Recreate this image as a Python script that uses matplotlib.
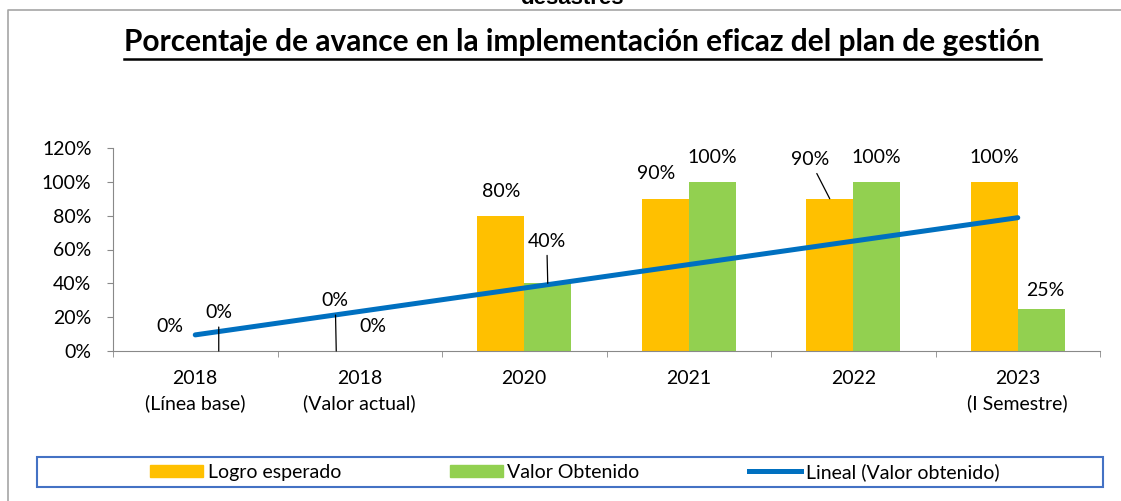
import numpy as np
import matplotlib
matplotlib.use("Agg")
import matplotlib.pyplot as plt
from matplotlib.patches import Rectangle, Patch
from matplotlib.lines import Line2D
from matplotlib.ticker import FixedLocator, FuncFormatter

plt.rcParams['font.family'] = ['Lato', 'DejaVu Sans']

# Datos del gráfico
categorias = ["2018\n(Línea base)", "2018\n(Valor actual)", "2020", "2021", "2022", "2023\n(I Semestre)"]
logro_esperado = [0.0, 0.0, 0.80, 0.90, 0.90, 1.00]
valor_obtenido = [0.0, 0.0, 0.40, 1.00, 1.00, 0.25]
ticks_y = [0.0, 0.2, 0.4, 0.6, 0.8, 1.0, 1.2]

titulo = "Porcentaje de avance en la implementación eficaz del plan de gestión"
titulo_cortado = "desastres"

# Desplazamiento de las etiquetas (pixeles) y si llevan línea guía
off_logro = [(-2, 24, False), (-1, 50, True), (0, 24, False), (-9, 25, False), (-20, 39, True), (0, 24, False)]
off_valor = [(0, 38, True), (-10, 24, False), (-1, 42, True), (0, 24, False), (0, 24, False), (4, 18, False)]

W, H = 1121, 501
fig = plt.figure(figsize=(W / 100, H / 100), dpi=100)
ax = fig.add_axes([113 / W, 150 / H, 987 / W, 203 / H])

x = np.arange(1, len(categorias) + 1)
ancho = 0.2857
gris = '#898989'
fs = 14

ax.bar(x - ancho / 2, logro_esperado, width=ancho, color='#FFC000', zorder=2)
ax.bar(x + ancho / 2, valor_obtenido, width=ancho, color='#92D050', zorder=2)

# Línea de tendencia lineal
coef = np.polyfit(x, valor_obtenido, 1)
ax.plot(x, np.polyval(coef, x), color='#0070C0', lw=3.6, solid_capstyle='round', zorder=4)

# Etiquetas de datos
for serie, offs, signo in [(logro_esperado, off_logro, -1), (valor_obtenido, off_valor, 1)]:
    for xi, v, (dx, dy, guia) in zip(x, serie, offs):
        props = dict(arrowstyle='-', color='black', lw=0.9, shrinkA=2, shrinkB=0) if guia else None
        ax.annotate(f"{v:.0%}", xy=(xi + signo * ancho / 2, v), xytext=(dx, dy),
                    textcoords='offset pixels', ha='center', va='center', fontsize=fs,
                    arrowprops=props, annotation_clip=False, zorder=5)

ax.set_xlim(0.5, len(categorias) + 0.5)
ax.set_ylim(0, 1.2)
ax.set_xticks(x)
ax.set_xticklabels(categorias, fontsize=fs, linespacing=1.45)
ax.xaxis.set_minor_locator(FixedLocator(np.arange(0.5, len(categorias) + 1, 1)))
ax.tick_params(axis='x', which='major', length=0, pad=14)
ax.tick_params(axis='x', which='minor', length=4.5, color=gris, direction='out')
ax.set_yticks(ticks_y)
ax.yaxis.set_major_formatter(FuncFormatter(lambda v, p: f"{v:.0%}"))
ax.tick_params(axis='y', length=4.5, color=gris, pad=11, labelsize=fs)
for s in ['top', 'right']:
    ax.spines[s].set_visible(False)
for s in ['left', 'bottom']:
    ax.spines[s].set_color(gris)

# Títulos
fig.text(572 / W, 1 - 4 / H, titulo_cortado, ha='center', va='baseline', fontsize=16,
         fontweight='bold', family=['Liberation Sans', 'DejaVu Sans'])
t = fig.text(582.5 / W, 1 - 51 / H, titulo, ha='center', va='baseline', fontsize=21.5, fontweight='bold')
fig.canvas.draw()
bb = t.get_window_extent(renderer=fig.canvas.get_renderer())
fig.add_artist(Line2D([bb.x0 / W, bb.x1 / W], [1 - 59 / H, 1 - 59 / H], transform=fig.transFigure,
                      color='black', lw=1.8))

# Marco exterior
fig.add_artist(Line2D([8 / W, 8 / W, 1], [0, 1 - 10 / H, 1 - 10 / H], transform=fig.transFigure,
                      color='#a6a6a6', lw=1.2))

# Leyenda
fig.add_artist(Rectangle((37 / W, 1 - 487 / H), 1066 / W, 30 / H, transform=fig.transFigure,
                         fill=False, edgecolor='#4472C4', lw=1.5))
handles = [Patch(color='#FFC000'), Patch(color='#92D050'), Line2D([], [], color='#0070C0', lw=3.6)]
fig.legend(handles, ["Logro esperado", "Valor Obtenido", "Lineal (Valor obtenido)"],
           loc='center', bbox_to_anchor=(575 / W, 1 - 472 / H), ncol=3, frameon=False,
           fontsize=fs, handlelength=2.7, handleheight=0.6, handletextpad=0.25, columnspacing=5.6)

fig.savefig("out.png", dpi=100)
